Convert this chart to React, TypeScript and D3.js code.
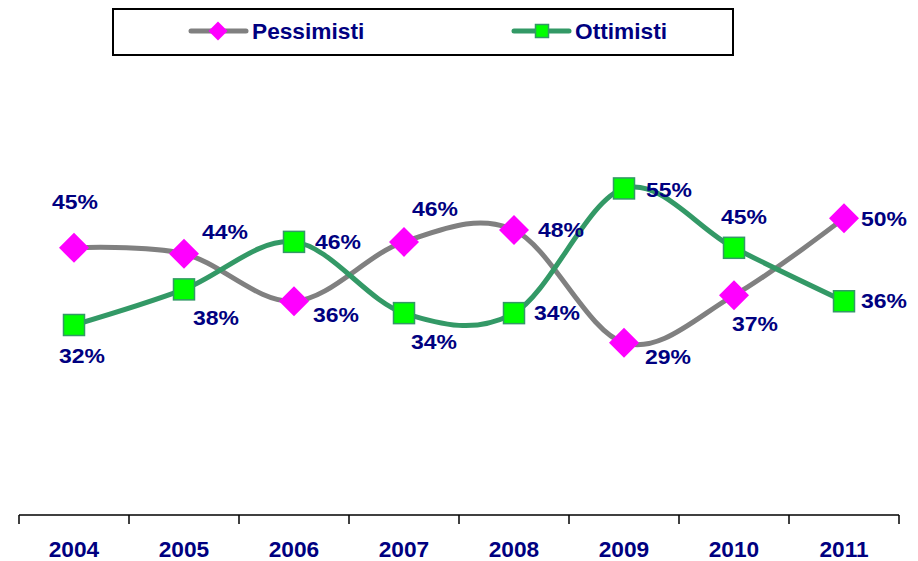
import React from "react";
import * as d3 from "d3";

const years = ["2004", "2005", "2006", "2007", "2008", "2009", "2010", "2011"];
const pessimisti = [45, 44, 36, 46, 48, 29, 37, 50];
const ottimisti = [32, 38, 46, 34, 34, 55, 45, 36];
// label offsets (px) relative to each marker
const pessLabelDx = [1, 41, 42, 31, 47, 44, 21, 40];
const pessLabelDy = [-46, -22, 14, -33, 0, 14, 29, 1];
const ottLabelDx = [8, 32, 44, 30, 43, 45, 10, 40];
const ottLabelDy = [31, 29, 0, 29, 0, 2, -31, 0];

const W = 918;
const H = 561;
const NAVY = "#000080";
const GRAY = "#808080";
const GREEN = "#339966";
const FONT = "'Liberation Sans', Arial, sans-serif";

export default function App() {
  const x = d3.scaleBand().domain(years).range([19, 899]);
  const y = d3.scaleLinear().domain([0, 80]).range([515, 40]);
  const cx = (i: number) => (x(years[i]) as number) + x.bandwidth() / 2;

  const line = d3
    .line<number>()
    .x((_, i) => cx(i))
    .y((v) => y(v))
    .curve(d3.curveCardinal.tension(0));

  const ticks = [...years.map((yr) => x(yr) as number), 899];

  const label = (v: number, i: number, dx: number, dy: number, key: string) => (
    <text
      key={key}
      x={cx(i) + dx - 23}
      y={y(v) + dy + 7}
      textLength={46}
      lengthAdjust="spacingAndGlyphs"
      fontFamily={FONT}
      fontWeight="bold"
      fontSize={20}
      fill={NAVY}
    >
      {v}%
    </text>
  );

  const diamond = (px: number, py: number, r: number, key: string) => (
    <path
      key={key}
      d={`M${px},${py - r}L${px + r},${py}L${px},${py + r}L${px - r},${py}Z`}
      fill="#FF00FF"
    />
  );
  const square = (px: number, py: number, s: number, key: string) => (
    <rect
      key={key}
      x={px - s / 2}
      y={py - s / 2}
      width={s}
      height={s}
      fill="#00FF00"
      stroke={GREEN}
      strokeWidth={1.5}
    />
  );

  return (
    <svg
      width={W}
      height={H}
      style={{ position: "absolute", left: 0, top: 0, background: "#fff" }}
    >
      {/* legend */}
      <rect x={113} y={9} width={620} height={46} fill="#fff" stroke="#000" strokeWidth={2} />
      <line x1={191} x2={246} y1={31} y2={31} stroke={GRAY} strokeWidth={5} strokeLinecap="round" />
      {diamond(218, 31, 9.5, "ld")}
      <text x={252} y={39} fontFamily={FONT} fontWeight="bold" fontSize={22.7} fill={NAVY}>
        Pessimisti
      </text>
      <line x1={514} x2={569} y1={31} y2={31} stroke={GREEN} strokeWidth={5} strokeLinecap="round" />
      {square(542, 31, 13, "ls")}
      <text x={575} y={39} fontFamily={FONT} fontWeight="bold" fontSize={22.7} fill={NAVY}>
        Ottimisti
      </text>

      {/* axis */}
      <line x1={19} x2={899} y1={515} y2={515} stroke="#000" strokeWidth={1.5} />
      {ticks.map((t, i) => (
        <line key={"t" + i} x1={t} x2={t} y1={515} y2={524} stroke="#000" strokeWidth={1.5} />
      ))}
      {years.map((yr, i) => (
        <text
          key={yr}
          x={cx(i)}
          y={557}
          textAnchor="middle"
          fontFamily={FONT}
          fontWeight="bold"
          fontSize={22.7}
          fill={NAVY}
        >
          {yr}
        </text>
      ))}

      {/* lines */}
      <path d={line(pessimisti) as string} fill="none" stroke={GRAY} strokeWidth={5} />
      {pessimisti.map((v, i) => diamond(cx(i), y(v), 15, "pd" + i))}
      <path d={line(ottimisti) as string} fill="none" stroke={GREEN} strokeWidth={5} />
      {ottimisti.map((v, i) => square(cx(i), y(v), 21, "os" + i))}

      {/* labels */}
      {pessimisti.map((v, i) => label(v, i, pessLabelDx[i], pessLabelDy[i], "pl" + i))}
      {ottimisti.map((v, i) => label(v, i, ottLabelDx[i], ottLabelDy[i], "ol" + i))}
    </svg>
  );
}
